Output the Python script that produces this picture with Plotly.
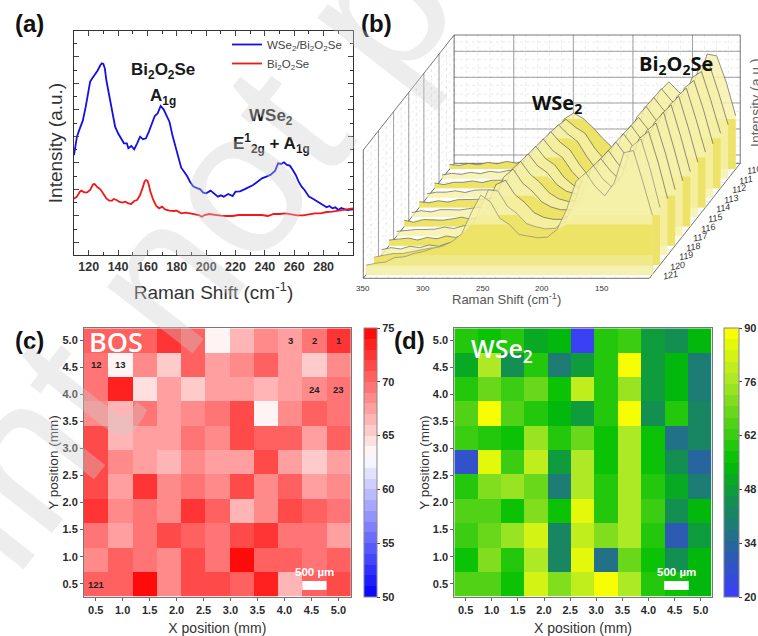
import plotly.graph_objects as go
from plotly.colors import sample_colorscale

W, H = 758, 636
DARK = "#2b2b2b"

# ---------- panel (a) data ----------
blue_shift = [110,112,114,116,118,121,122,124,126,128,129,130,131,132,134,136,138,140,142,144,146,147,149,151,153,155,157,159,161,163,165,167,169,171,173,175,177,179,181,183,185,187,189,191,193,196,198,200,203,206,208,210,212,215,218,220,223,226,229,232,235,238,241,244,247,249,251,253,255,257,259,261,263,265,267,270,273,276,279,282,284,286,288,290,292,294,296,300]
blue_int = [300,355,380,403,445,520,527,539,553,570,575,573,560,525,475,425,385,365,350,335,335,320,327,317,335,355,347,350,370,395,417,425,447,437,420,400,360,325,290,262,250,237,220,207,202,197,187,185,193,183,175,179,175,183,177,190,191,197,203,210,220,230,235,241,253,275,273,278,270,268,255,240,220,205,195,175,168,160,153,143,147,140,143,135,141,138,135,137]
red_shift = [110,112,114,115,117,119,121,123,124,126,128,130,132,134,136,137,139,141,143,145,147,149,151,153,155,157,158,159,160,161,162,164,166,168,170,172,175,178,180,183,186,189,192,195,197,199,202,206,210,214,218,222,226,230,234,238,242,246,250,254,258,262,266,270,274,278,282,286,290,294,300]
red_int = [169,175,190,193,188,188,195,212,213,203,197,183,170,163,163,168,165,159,157,160,155,153,162,165,180,205,220,225,223,210,190,165,147,140,145,137,133,132,133,125,127,125,123,120,115,120,123,120,118,117,117,120,120,120,120,120,117,123,123,125,122,119,119,122,125,125,129,130,133,135,140]
a_tick_labels = [120,140,160,180,200,220,240,260,280]

# ---------- panel (b) data: one intensity list per sample ----------
b_shift = [350,342,334,326,318,310,302,294,286,278,270,262,254,246,238,230,222,214,206,198,190,182,174,166,158,150,142,134,126,118,110]
s110 = [14,11,17,13,20,16,23,18,26,27,46,96,150,168,152,126,94,66,48,50,84,148,232,262,232,212,250,345,340,262,160]
s111 = [11,16,13,19,15,22,19,25,24,31,48,98,156,178,154,136,92,58,34,30,76,146,236,270,236,210,250,338,345,258,162]
s112 = [16,11,18,18,22,17,24,24,25,31,50,100,164,190,162,140,94,56,32,30,78,150,240,272,236,212,246,332,350,262,165]
s113 = [12,17,17,21,16,23,24,23,27,35,54,104,170,198,166,144,100,64,46,46,92,155,242,274,234,212,247,330,352,265,162]
s114 = [17,14,20,16,23,23,23,25,31,35,56,108,176,205,170,150,108,78,64,68,102,158,240,270,234,212,246,332,358,266,166]
s115 = [13,19,15,22,22,21,25,29,27,39,58,112,182,212,176,156,118,94,84,88,108,160,244,274,236,214,250,335,362,268,164]
s116 = [19,13,21,21,19,23,28,23,31,39,62,118,190,218,182,162,126,106,98,100,112,165,248,278,240,216,250,338,365,270,165]
s117 = [14,18,20,20,21,27,23,31,31,43,66,122,198,224,186,162,130,112,104,106,118,168,250,282,244,219,255,340,372,272,166]
s118 = [17,19,23,17,25,21,29,25,35,45,70,128,205,230,188,164,132,116,108,108,120,172,255,286,246,222,258,345,368,276,168]
s119 = [17,23,19,27,23,31,27,37,39,53,80,140,212,225,182,159,128,114,108,108,125,178,262,290,254,226,262,350,372,280,170]
s120 = [23,28,34,34,39,45,51,49,57,71,98,160,225,222,176,154,124,114,108,110,128,185,268,298,258,232,268,355,378,285,172]
s121 = [28,34,37,51,53,63,69,79,85,99,122,185,238,218,168,150,120,114,110,112,135,195,280,305,264,236,275,365,372,278,178]
b_samples = [110,111,112,113,114,115,116,117,118,119,120,121]
b_spectra = [s110,s111,s112,s113,s114,s115,s116,s117,s118,s119,s120,s121]
b_strong = [110,112,114,116,118,120,121]
b_shift_ticks = [350,300,250,200,150]
b_sample_labels = [110,111,112,113,114,115,116,117,118,119,120,121]

# ---------- panel (c) data, top row first ----------
c_r1 = [70,70.5,70,72,70,63,66,68,67.5,69.5,72.5]
c_r2 = [69,63,68.5,65,70.5,67.5,68.5,70.5,67.5,65,68]
c_r3 = [69.5,73.5,64.5,67,65.8,67,67,66.5,67.5,68,69]
c_r4 = [68.5,66.5,69.5,67,68,69,71,63.3,68.5,70,69.5]
c_r5 = [71,66.5,67.5,67.5,69,68,71,70.5,70.5,67.5,70.5]
c_r6 = [71.5,68.5,67.5,66,68,67,67,71.5,67.5,65,67]
c_r7 = [71.5,67.5,72,68,69,68.5,71.5,68,70.5,67,68]
c_r8 = [72.5,68,69.5,68,72.5,70.5,66,68,71,70,69]
c_r9 = [69.5,67.5,69,71,70.5,69.5,71.5,72.5,69.5,69,67]
c_r10 = [68,70,69,68,71.5,69.5,75,70,70.5,69,70]
c_r11 = [70.5,70.5,75,68,71.5,71.5,70.5,73,66,70.5,71]
c_rows = [c_r1,c_r2,c_r3,c_r4,c_r5,c_r6,c_r7,c_r8,c_r9,c_r10,c_r11]

# ---------- panel (d) data, top row first ----------
d_r1 = [58,56,58,50,54,20,60,63,48,44,53]
d_r2 = [50,78,44,58,40,49,60,90,48,53,38]
d_r3 = [58,68,62,68,56,80,59,73,49,53,38]
d_r4 = [66,90,66,59,54,48,60,90,46,58,42]
d_r5 = [62,58,56,74,58,69,55,76,56,37,42]
d_r6 = [28,85,61,79,48,76,57,76,57,45,33]
d_r7 = [58,71,73,67,40,77,58,76,60,51,38]
d_r8 = [64,66,57,72,55,87,60,77,62,44,53]
d_r9 = [62,68,73,82,41,79,72,76,60,29,49]
d_r10 = [57,71,60,76,42,85,37,67,56,46,53]
d_r11 = [64,64,57,82,71,80,90,77,58,56,53]
d_rows = [d_r1,d_r2,d_r3,d_r4,d_r5,d_r6,d_r7,d_r8,d_r9,d_r10,d_r11]

map_ticks = [0.5,1.0,1.5,2.0,2.5,3.0,3.5,4.0,4.5,5.0]
c_bar_ticks = [50,55,60,65,70,75]
d_bar_ticks = [20,34,48,62,76,90]

fig = go.Figure()
ann = []

def dom_x(a, b): return [a / W, b / W]
def dom_y(top, bot): return [1 - bot / H, 1 - top / H]

def page_text(text, x, y, font, **kw):
    ann.append(dict(text=text, x=x/W, y=1-y/H, xref="paper", yref="paper", xanchor="center", yanchor="middle",
                    showarrow=False, font=font, **kw))

# ---------- panel (a) ----------
fig.add_trace(go.Scatter(x=blue_shift, y=blue_int, mode="lines", name="WSe<sub>2</sub>/Bi<sub>2</sub>O<sub>2</sub>Se",
                         line=dict(color="#1010e8", width=1.8), xaxis="x", yaxis="y"))
fig.add_trace(go.Scatter(x=red_shift, y=red_int, mode="lines", name="Bi<sub>2</sub>O<sub>2</sub>Se",
                         line=dict(color="#f01818", width=1.8), xaxis="x", yaxis="y"))

# ---------- panel (b): oblique projection of (shift, sample, intensity) ----------
X0, Y0 = 363.3, 278.3
PX_PER_SHIFT = 1.192
DEPTH_X, DEPTH_Y = 7.57, 9.58
PX_PER_INT = 1 / 3
DMAX = 12.0
ZMAX = 385
PALE, STRONG, MID = "rgba(245,240,170,0.82)", "rgba(236,225,100,0.95)", "rgba(240,233,140,1)"

def px(shift, depth): return X0 + (350 - shift) * PX_PER_SHIFT + depth * DEPTH_X
def py(intensity, depth): return Y0 - intensity * PX_PER_INT - depth * DEPTH_Y
def depth_of(sample): return 121.4 - sample

def grid_trace(segments, color, width, dash=None):
    xs, ys = [], []
    for (x1, y1), (x2, y2) in segments:
        xs += [x1, x2, None]; ys += [y1, y2, None]
    fig.add_trace(go.Scatter(x=xs, y=ys, mode="lines", showlegend=False, hoverinfo="skip",
                             line=dict(color=color, width=width, dash=dash), xaxis="x2", yaxis="y2"))

minor, major, frame = [], [], []
for s in range(350, 109, -10):
    minor.append(((px(s, DMAX), py(0, DMAX)), (px(s, DMAX), py(ZMAX, DMAX))))
    minor.append(((px(s, 0), py(0, 0)), (px(s, DMAX), py(0, DMAX))))
for s in [300, 250, 200, 150]:
    major.append(((px(s, DMAX), py(0, DMAX)), (px(s, DMAX), py(ZMAX, DMAX))))
for z in range(0, 386, 26):
    minor.append(((px(350, DMAX), py(z, DMAX)), (px(110, DMAX), py(z, DMAX))))
    minor.append(((px(350, 0), py(z, 0)), (px(350, DMAX), py(z, DMAX))))
for z in [25, 103, 181, 258, 336]:
    major.append(((px(350, DMAX), py(z, DMAX)), (px(110, DMAX), py(z, DMAX))))
for d in range(0, 13):
    minor.append(((px(350, d), py(0, d)), (px(350, d), py(ZMAX, d))))
    minor.append(((px(350, d), py(0, d)), (px(110, d), py(0, d))))
for d in [2, 4, 6, 8, 10]:
    major.append(((px(350, d), py(0, d)), (px(350, d), py(ZMAX, d))))
frame += [((px(350, 0), py(0, 0)), (px(110, 0), py(0, 0))),
          ((px(110, 0), py(0, 0)), (px(110, DMAX), py(0, DMAX))),
          ((px(350, 0), py(0, 0)), (px(350, DMAX), py(0, DMAX))),
          ((px(350, DMAX), py(0, DMAX)), (px(110, DMAX), py(0, DMAX))),
          ((px(350, 0), py(0, 0)), (px(350, 0), py(ZMAX, 0))),
          ((px(350, 0), py(ZMAX, 0)), (px(350, DMAX), py(ZMAX, DMAX))),
          ((px(350, DMAX), py(0, DMAX)), (px(350, DMAX), py(ZMAX, DMAX))),
          ((px(350, DMAX), py(ZMAX, DMAX)), (px(110, DMAX), py(ZMAX, DMAX))),
          ((px(110, DMAX), py(0, DMAX)), (px(110, DMAX), py(ZMAX, DMAX)))]
grid_trace(minor, "#d4d4d4", 0.5, "dot")
grid_trace(major, "#8c8c8c", 0.8)
grid_trace(frame, "#555555", 0.8)

def poly(spec, d, level, color):
    """Area under a spectrum, limited to heights below `level`."""
    xs = [px(s, d) for s in b_shift]
    ys = [py(min(v, level), d) for v in spec]
    fig.add_trace(go.Scatter(x=xs + [xs[-1], xs[0], xs[0]], y=ys + [py(0, d), py(0, d), ys[0]], mode="none", fill="toself",
                             fillcolor=color, hoverinfo="skip", showlegend=False, xaxis="x2", yaxis="y2"))

for sample, spec in zip(b_samples, b_spectra):
    d = depth_of(sample)
    poly(spec, d, 9999, PALE)
    if sample in b_strong:
        poly(spec, d, 150, STRONG)
    if sample == 121:
        poly(spec, d, 58, MID)
        poly(spec, d, 26, "rgba(245,241,178,1)")
    fig.add_trace(go.Scatter(x=[px(s, d) for s in b_shift], y=[py(v, d) for v in spec], mode="lines", hoverinfo="skip", showlegend=False,
                             line=dict(color="#77776a" if sample >= 120 else "#4a4a40", width=0.6), xaxis="x2", yaxis="y2"))

for s in b_shift_ticks:
    ann.append(dict(text=str(s), x=px(s, 0), y=py(0, 0) + 10, xref="x2", yref="y2", showarrow=False,
                    font=dict(family="Liberation Sans", size=8, color="#333333")))
for sample in b_sample_labels:
    d = depth_of(sample)
    ann.append(dict(text=f"<i>{sample}</i>", x=px(110, d) + 18, y=py(0, d) + 1, xref="x2", yref="y2", showarrow=False,
                    textangle=-12, font=dict(family="Liberation Sans", size=9, color="#333333")))
ann.append(dict(text="Raman Shift (cm<sup>-1</sup>)", x=506, y=299, xref="x2", yref="y2", showarrow=False,
                font=dict(family="Liberation Sans", size=13, color="#555555")))
ann.append(dict(text="Intensity (a.u.)", x=756, y=103, xref="x2", yref="y2", showarrow=False, textangle=-90,
                font=dict(family="Liberation Sans", size=14, color="#666666")))
ann.append(dict(text="<b>WSe<sub>2</sub></b>", x=557, y=103, xref="x2", yref="y2", showarrow=False,
                font=dict(family="Open Sans", size=20, color="#111111")))
ann.append(dict(text="<b>Bi<sub>2</sub>O<sub>2</sub>Se</b>", x=676, y=64, xref="x2", yref="y2", showarrow=False,
                font=dict(family="Open Sans", size=20, color="#111111")))

# ---------- heat maps ----------
def stepped(stops, n):
    scale = []
    cols = sample_colorscale(stops, [(i + 0.5) / n for i in range(n)])
    for i, col in enumerate(cols):
        scale += [[i / n, col], [(i + 1) / n, col]]
    return scale

c_scale = stepped([[0, "#0000ff"], [0.52, "#ffffff"], [1, "#ff0000"]], 25)
d_scale = stepped([[0, "#3c3cff"], [0.17, "#2a60a8"], [0.26, "#1e7a78"], [0.36, "#139050"], [0.50, "#00bf00"], [0.60, "#38cc12"],
                   [0.80, "#a8e826"], [1, "#ffff00"]], 24)

def cell_centres(lo, hi):
    step = (hi - lo) / 11
    return [lo + step * (i + 0.5) for i in range(11)]

CX = (0.284, 5.228); CY = (0.26, 5.22)
DX = (0.283, 5.21)
yc = cell_centres(*CY)

fig.add_trace(go.Heatmap(z=c_rows[::-1], x=cell_centres(*CX), y=yc, zmin=50, zmax=75, colorscale=c_scale, xaxis="x3", yaxis="y3",
    colorbar=dict(x=364/W, xanchor="left", y=1-462.5/H, yanchor="middle", thickness=13, len=268.5, lenmode="pixels",
                  tickvals=c_bar_ticks, ticks="outside", ticklen=3, tickwidth=1, outlinecolor="#888888", outlinewidth=1, xpad=0, ypad=0,
                  tickfont=dict(family="Liberation Sans", size=11, color=DARK, weight="bold"))))
fig.add_trace(go.Heatmap(z=d_rows[::-1], x=cell_centres(*DX), y=yc, zmin=20, zmax=90, colorscale=d_scale, xaxis="x4", yaxis="y4",
    colorbar=dict(x=724/W, xanchor="left", y=1-462.5/H, yanchor="middle", thickness=15, len=268.5, lenmode="pixels",
                  tickvals=d_bar_ticks, ticks="outside", ticklen=3, tickwidth=1, outlinecolor="#888888", outlinewidth=1, xpad=0, ypad=0,
                  tickfont=dict(family="Liberation Sans", size=11, color=DARK, weight="bold"))))

cxc = cell_centres(*CX)
for label, col, row in [("1",10,0),("2",9,0),("3",8,0),("12",0,1),("13",1,1),("24",9,2),("23",10,2),("121",0,10)]:
    ann.append(dict(text=f"<b>{label}</b>", x=cxc[col], y=yc[10-row], xref="x3", yref="y3", showarrow=False,
                    font=dict(family="Liberation Sans", size=9.5, color="#222222")))
ann.append(dict(text="BOS", x=0.877, y=4.985, xref="x3", yref="y3", showarrow=False,
                font=dict(family="Open Sans", size=27, color="white", weight=600)))
ann.append(dict(text="WSe<sub>2</sub>", x=1.2, y=4.82, xref="x4", yref="y4", showarrow=False,
                font=dict(family="Open Sans", size=25, color="white", weight=600)))
ann.append(dict(text="<b>500 µm</b>", x=4.55, y=0.71, xref="x3", yref="y3", showarrow=False, font=dict(family="Liberation Sans", size=11.5, color="white")))
ann.append(dict(text="<b>500 µm</b>", x=4.54, y=0.71, xref="x4", yref="y4", showarrow=False, font=dict(family="Liberation Sans", size=11.5, color="white")))
shapes = [dict(type="rect", xref="x3", yref="y3", x0=4.33, x1=4.78, y0=0.383, y1=0.55, fillcolor="white", line_width=0),
          dict(type="rect", xref="x4", yref="y4", x0=4.30, x1=4.77, y0=0.383, y1=0.55, fillcolor="white", line_width=0)]

# ---------- text labels of panel (a) ----------
lab_a = dict(family="Liberation Sans", size=17, color="#1a1a1a")
for text, x, y in [("<b>Bi<sub>2</sub>O<sub>2</sub>Se</b>", 163, 71), ("<b>A<sub>1g</sub></b>", 163, 97),
                   ("<b>WSe<sub>2</sub></b>", 271, 117), ("<b>E<sup>1</sup><sub>2g</sub> + A<sub>1g</sub></b>", 271, 143)]:
    page_text(text, x, y, lab_a)

for text, x, y in [("(a)", 29, 23), ("(b)", 376, 23), ("(c)", 29, 340), ("(d)", 409, 340)]:
    page_text(f"<b>{text}</b>", x, y, dict(family="Liberation Sans", size=24, color="#111111"))

# ---------- watermark ----------
page_text("print not peer", 219, 204, dict(family="Liberation Sans", size=205, color="rgba(205,205,205,0.36)"), textangle=-52)

def map_x(domain, rng, anchor):
    return dict(domain=domain, range=list(rng), anchor=anchor, tickvals=map_ticks, ticktext=[f"{t:.1f}" for t in map_ticks],
                ticks="outside", ticklen=3, tickcolor="#666666", showgrid=False, zeroline=False, showline=True, mirror=True,
                linecolor="#777777", linewidth=1,
                tickfont=dict(family="Liberation Sans", size=11, color=DARK, weight="bold"),
                title=dict(text="X position (mm)", standoff=8, font=dict(family="Liberation Sans", size=14, color="#333333")))

def map_y(domain, rng, anchor):
    return dict(domain=domain, range=list(rng), anchor=anchor, tickvals=map_ticks, ticktext=[f"{t:.1f}" for t in map_ticks],
                ticks="outside", ticklen=3, tickcolor="#666666", showgrid=False, zeroline=False, showline=True, mirror=True,
                linecolor="#777777", linewidth=1,
                tickfont=dict(family="Liberation Sans", size=11, color=DARK, weight="bold"),
                title=dict(text="Y position (mm)", standoff=0, font=dict(family="Liberation Sans", size=13.5, color="#333333")))

fig.update_layout(
    width=W, height=H, margin=dict(l=0, r=0, t=0, b=0), paper_bgcolor="white", plot_bgcolor="rgba(0,0,0,0)",
    annotations=ann, shapes=shapes,
    legend=dict(x=227/W, y=1-30/H, xanchor="left", yanchor="top", bgcolor="rgba(0,0,0,0)", itemwidth=30, tracegroupgap=0,
                font=dict(family="Liberation Sans", size=11.5, color="#444444")),
    xaxis=dict(domain=dom_x(74, 353), range=[110, 300], anchor="y", tickvals=a_tick_labels, ticks="inside", ticklen=5, tickwidth=1.2,
               minor=dict(dtick=10, ticks="inside", ticklen=3, tickcolor="#333333"),
               showgrid=False, zeroline=False, showline=True, mirror="allticks", linecolor="#333333", linewidth=1.4,
               tickfont=dict(family="Liberation Sans", size=12.5, color="#333333", weight="bold"),
               title=dict(text="Raman Shift (cm<sup>-1</sup>)", standoff=12, font=dict(family="Liberation Sans", size=19, color="#333333"))),
    yaxis=dict(domain=dom_y(31, 255), range=[0, 672], anchor="x", tick0=38, dtick=79.5, ticks="inside", ticklen=5, tickwidth=1.2,
               minor=dict(dtick=39.75, tick0=38, ticks="inside", ticklen=3, tickcolor="#333333"),
               showticklabels=False, showgrid=False, zeroline=False, showline=True, mirror="allticks", linecolor="#333333", linewidth=1.4,
               title=dict(text="Intensity (a.u.)", standoff=5, font=dict(family="Liberation Sans", size=19, color="#333333"))),
    xaxis2=dict(domain=[0, 1], range=[0, W], anchor="y2", visible=False, fixedrange=True),
    yaxis2=dict(domain=[0, 1], range=[H, 0], anchor="x2", visible=False, fixedrange=True),
    xaxis3=map_x(dom_x(84, 350.7), CX, "y3"),
    yaxis3=map_y(dom_y(328.3, 596.7), CY, "x3"),
    xaxis4=map_x(dom_x(454.3, 711.7), DX, "y4"),
    yaxis4=map_y(dom_y(328.3, 596.7), CY, "x4"),
)

fig.write_html("out.html", config={"displayModeBar": False}, post_script="document.body.style.margin='0';")
